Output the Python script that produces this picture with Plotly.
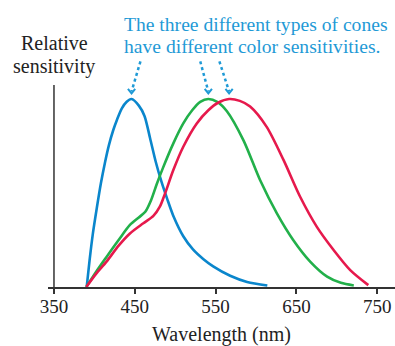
import plotly.graph_objects as go

# ---- data (wavelength in nm, relative sensitivity) ----
wl_blue = [390.5, 394, 398, 403, 408, 413, 418, 423.4, 428, 434, 440, 446, 455, 462, 469, 476, 483, 490, 498, 510, 522, 535, 547, 568, 589, 614]
s_blue  = [0.0, 0.14, 0.28, 0.42, 0.55, 0.66, 0.755, 0.835, 0.89, 0.95, 0.985, 1.0, 0.965, 0.91, 0.79, 0.665, 0.56, 0.47, 0.375, 0.27, 0.20, 0.148, 0.11, 0.06, 0.027, 0.008]

wl_green = [390, 402, 415, 430, 444, 455, 463, 470, 477, 485, 497.7, 510, 521, 531, 541, 552, 564, 584.5, 605, 626, 646, 667, 688, 705, 721]
s_green  = [0.0, 0.08, 0.16, 0.25, 0.33, 0.37, 0.40, 0.46, 0.545, 0.635, 0.764, 0.87, 0.94, 0.985, 1.0, 0.985, 0.935, 0.78, 0.569, 0.39, 0.25, 0.135, 0.055, 0.022, 0.008]

wl_red = [390, 402, 415, 430, 444, 460.6, 473, 481, 487.5, 497.7, 510, 526.7, 541, 553, 566.7, 580, 592.7, 613, 634, 654.6, 675.3, 696, 716.6, 739]
s_red  = [0.0, 0.07, 0.135, 0.22, 0.285, 0.339, 0.378, 0.427, 0.498, 0.622, 0.746, 0.87, 0.94, 0.98, 1.0, 0.99, 0.96, 0.853, 0.676, 0.48, 0.32, 0.197, 0.09, 0.01]

tick_vals = [350, 450, 550, 650, 750]
tick_text = ["350", "450", "550", "650", "750"]

series = [
    ("blue", wl_blue, s_blue, "#0a86cc", 11),
    ("green", wl_green, s_green, "#22b04a", -10),
    ("red", wl_red, s_red, "#e6194c", -12),
]

ANN_BLUE = "#1f9ad6"
AX = "#333333"
FONT = "Liberation Serif"

fig = go.Figure()
for name, wl, s, col, off in series:
    fig.add_trace(go.Scatter(x=wl, y=s, mode="lines", name=name,
                             line=dict(color=col, width=2.6, shape="spline", smoothing=0.8),
                             hoverinfo="skip", showlegend=False))

# dotted arrows pointing to each peak
for name, wl, s, col, off in series:
    i = max(range(len(s)), key=lambda k: s[k])
    px, py = wl[i], s[i]
    ye = py + 0.03
    ys = py + 0.20
    fig.add_trace(go.Scatter(x=[px + off, px], y=[ys, ye + 0.01], mode="lines",
                             line=dict(color=ANN_BLUE, width=2.5, dash="dot"),
                             hoverinfo="skip", showlegend=False))
    fig.add_trace(go.Scatter(x=[px - 4.5, px, px + 4.5], y=[ye + 0.024, ye, ye + 0.024], mode="lines",
                             line=dict(color=ANN_BLUE, width=2),
                             hoverinfo="skip", showlegend=False))

H = 287.0  # plot-area height in px
W = 347.0

def yp(ypx):
    return (H - ypx) / H

def xp(xpx):
    return (xpx - 48) / W

# y axis line
fig.add_shape(type="line", xref="x", yref="y", x0=350, x1=350, y0=0, y1=1.074,
              line=dict(color=AX, width=1.5))

annos = [
    dict(text="Relative", x=xp(54), y=yp(43), xanchor="center", color="#222", size=20),
    dict(text="sensitivity", x=xp(54), y=yp(66), xanchor="center", color="#222", size=20),
    dict(text="The three different types of cones", x=xp(122), y=yp(25), xanchor="left", color=ANN_BLUE, size=19.6),
    dict(text="have different color sensitivities.", x=xp(122), y=yp(46), xanchor="left", color=ANN_BLUE, size=19.6),
]
for a in annos:
    fig.add_annotation(text=a["text"], x=a["x"], y=a["y"], xref="paper", yref="paper",
                       xanchor=a["xanchor"], yanchor="middle", showarrow=False,
                       font=dict(family=FONT, size=a["size"], color=a["color"]))

fig.update_layout(
    width=395, height=346,
    margin=dict(l=48, r=0, t=0, b=59),
    paper_bgcolor="white", plot_bgcolor="white",
    xaxis=dict(range=[342.6, 772], tickvals=tick_vals, ticktext=tick_text,
               ticks="outside", ticklen=5, tickwidth=1.5, tickcolor=AX,
               showline=True, linecolor=AX, linewidth=1.5,
               showgrid=False, zeroline=False, ticklabelstandoff=-4,
               tickfont=dict(family=FONT, size=19, color="#222"),
               title=dict(text="Wavelength (nm)", font=dict(family=FONT, size=20, color="#222"), standoff=11)),
    yaxis=dict(range=[0, H / 188.0], visible=False, showgrid=False, zeroline=False),
)

fig.write_html("out.html")
